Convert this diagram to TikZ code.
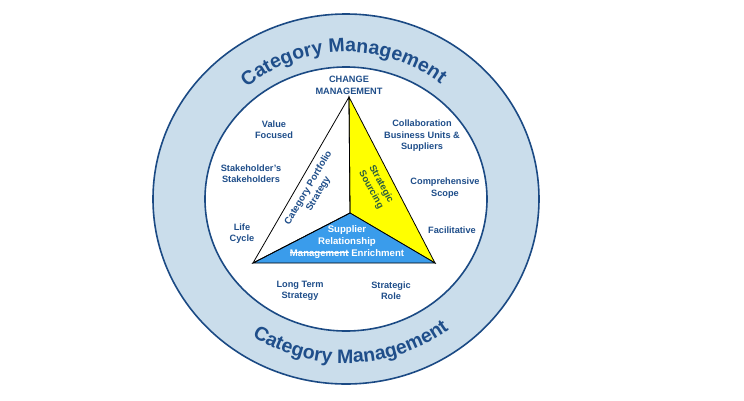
\documentclass[tikz,border=0pt]{standalone}
\usepackage{fontspec}
\setmainfont{Liberation Sans}
\usetikzlibrary{decorations.text}
\definecolor{catblue}{HTML}{1F4E8A}
\definecolor{ringblue}{HTML}{CADDEB}
\definecolor{edgeblue}{HTML}{1B4A84}
\definecolor{srmblue}{HTML}{3A9CEB}
\definecolor{sourceyellow}{HTML}{FFFF00}
\definecolor{sourcegreen}{HTML}{2A5E3E}
\newsavebox{\crossbox}
\newcommand{\crossword}[1]{\sbox{\crossbox}{#1}\rlap{\rule[0.3em]{\wd\crossbox}{0.7pt}}\usebox{\crossbox}}
\tikzset{
  lbl/.style={catblue,align=center,inner sep=1pt,font=\fontsize{9.2}{11.4}\selectfont\bfseries},
  inlbl/.style={lbl,font=\fontsize{9.6}{11.6}\selectfont\bfseries},
  ringtitle/.style={decorate,decoration={text along path,text align=center,text color=catblue,
      text={|\fontsize{19.5}{20}\selectfont\bfseries|Category Management}}}
}

\begin{document}
\begin{tikzpicture}[x=1pt,y=1pt]
  \useasboundingbox (-346,-201) rectangle (398,199);
  % rings
  \draw[edgeblue,line width=1.6pt,fill=ringblue] (0,0) ellipse [x radius=193,y radius=185];
  \draw[edgeblue,line width=1.6pt,fill=white] (0,0) ellipse [x radius=141,y radius=132];
  \path[ringtitle] (151:152 and 147) arc[start angle=151,end angle=31,x radius=152,y radius=147];
  \path[ringtitle] (202:171 and 164) arc[start angle=202,end angle=342,x radius=171,y radius=164];

  % triangle
  \coordinate (apexpt) at (3,102);
  \coordinate (lowleft) at (-93,-64);
  \coordinate (lowright) at (89,-64);
  \coordinate (hub) at (4,-14);
  \filldraw[fill=sourceyellow,line width=0.8pt] (apexpt)--(hub)--(lowright)--cycle;
  \filldraw[fill=srmblue,line width=0.8pt] (hub)--(lowleft)--(lowright)--cycle;
  \draw[line width=0.8pt] (apexpt)--(lowleft)--(hub)--cycle;

  \node[inlbl,rotate=59.4] (portfolio) at (-32.5,8) {Category Portfolio\\Strategy};
  \node[inlbl,sourcegreen,rotate=-61.6] (sourcing) at (30,12) {Strategic\\Sourcing};
  \node[inlbl,white] (srm) at (1,-43) {Supplier\\Relationship\\\crossword{Management} Enrichment};

  % labels round the triangle
  \node[lbl] (change) at (3,113.5) {CHANGE\\MANAGEMENT};
  \node[lbl] (value) at (-72,69.5) {Value\\Focused};
  \node[lbl] (stake) at (-95,25) {Stakeholder's\\Stakeholders};
  \node[lbl] (life) at (-104,-34.5) {Life\\Cycle};
  \node[lbl] (collab) at (76,63) {Collaboration\\Business Units \&\\Suppliers};
  \node[lbl] (scope) at (99,11) {Comprehensive\\Scope};
  \node[lbl] (facil) at (106,-31) {Facilitative};
  \node[lbl] (longterm) at (-46,-92) {Long Term\\Strategy};
  \node[lbl] (role) at (45,-92) {Strategic\\Role};
\end{tikzpicture}
\end{document}
